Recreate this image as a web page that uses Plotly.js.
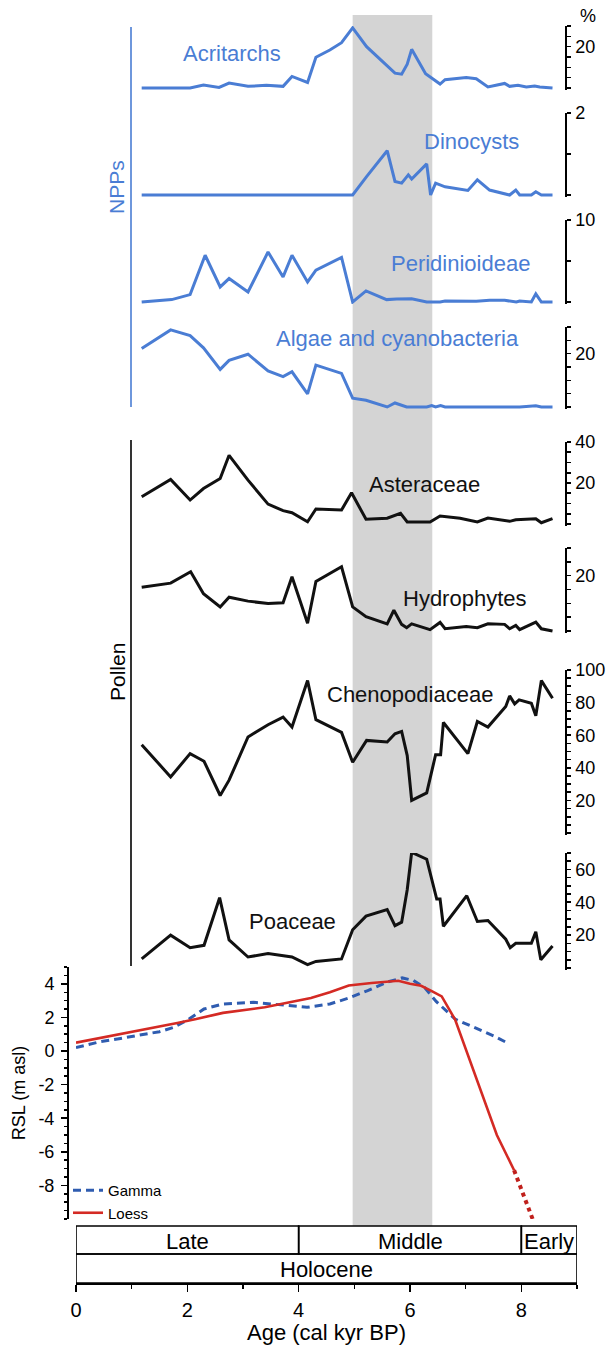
<!DOCTYPE html>
<html><head><meta charset="utf-8">
<script src="https://cdn.plot.ly/plotly-3.0.1.min.js"></script>
<style>html,body{margin:0;padding:0;background:#fff}#chart{width:606px;height:1345px}</style>
</head><body><div id="chart"></div>
<script>
// ---------------- DATA ----------------
const ageAcritarchs = [1.18,2.05,2.29,2.57,2.75,3.09,3.42,3.72,3.88,4.16,4.31,4.56,4.77,4.97,5.22,5.73,5.85,5.95,6.03,6.28,6.54,6.63,7.01,7.19,7.40,7.70,7.79,7.94,8.09,8.24,8.33,8.56];
const acritarchs    = [0,0,1.4,0.3,2.4,0.8,1.3,0.8,5.6,2.7,14.9,18.4,21.9,29.1,20,7.2,6.7,11.5,18.7,6.9,1.9,4,5.1,4.5,0.5,2.2,0.8,1.3,0.5,1.0,0.5,0];

const ageDinocysts = [1.18,4.97,5.22,5.59,5.73,5.85,5.97,6.03,6.30,6.37,6.46,6.63,7.04,7.21,7.43,7.79,7.90,7.97,8.18,8.26,8.36,8.56];
const dinocysts    = [0,0,0.45,1.08,0.33,0.29,0.49,0.39,0.76,0,0.29,0.2,0.11,0.37,0.12,0,0.12,0,0,0.08,0,0];

const agePeridinioideae = [1.18,1.72,2.05,2.32,2.59,2.75,3.09,3.45,3.72,3.88,4.16,4.31,4.77,4.97,5.21,5.58,5.76,6.03,6.30,6.54,6.63,7.19,7.43,7.70,7.91,7.97,8.18,8.26,8.36,8.56];
const peridinioideae    = [0,0.29,0.9,5.7,1.84,2.86,1.22,6.1,3.06,5.7,2.45,3.88,5.43,0,1.35,0.29,0.37,0.4,0,0,0.12,0.08,0.2,0.2,0,0.12,0,1.0,0,0];

const ageAlgae = [1.18,1.70,2.05,2.29,2.59,2.75,3.09,3.45,3.72,3.88,4.16,4.31,4.77,4.97,5.21,5.59,5.73,5.94,6.30,6.39,6.46,6.55,6.63,7.19,7.70,7.82,7.91,7.97,8.26,8.36,8.56];
const algae    = [21.9,28.9,26.8,22.2,14.1,17.5,19.8,13.5,11.4,13.2,4.9,15.7,12.6,3.3,2.5,0,1.5,0,0,0.5,0,0.5,0,0,0.25,0,0,0,0.5,0,0];

const ageAsteraceae = [1.18,1.70,2.05,2.29,2.59,2.75,3.09,3.45,3.72,3.88,4.16,4.31,4.77,4.95,5.21,5.59,5.83,5.95,6.36,6.54,6.90,7.21,7.40,7.79,7.90,8.26,8.36,8.56];
const asteraceae    = [13.3,21.7,11.7,17.3,22.2,33.5,21.4,9.7,6.5,5.5,1.1,7.3,6.8,15.2,2.3,2.8,5.2,1.0,1.0,3.9,2.8,1.0,2.9,1.3,2.1,2.6,0.6,2.6];

const ageHydrophytes = [1.18,1.70,2.06,2.29,2.59,2.75,3.09,3.45,3.72,3.88,4.16,4.31,4.77,4.97,5.21,5.59,5.71,5.85,5.94,6.03,6.36,6.54,6.63,7.01,7.21,7.40,7.70,7.79,7.90,7.97,8.26,8.36,8.56];
const hydrophytes    = [15.8,17.3,21.4,13.5,8.7,12.2,10.8,9.9,10.2,19.6,2.8,17.9,23.2,8.7,5.2,2.6,7.5,2.4,1.2,2.6,0.5,3.1,0.8,1.6,1.2,2.6,2.4,0.8,2.0,0.5,3.2,0.8,0];

const ageChenopodiaceae = [1.18,1.70,2.05,2.30,2.59,2.75,3.09,3.45,3.72,3.88,4.16,4.31,4.77,4.97,5.22,5.59,5.73,5.85,5.95,6.03,6.30,6.39,6.46,6.55,6.60,7.04,7.21,7.40,7.72,7.79,7.88,7.96,8.18,8.26,8.36,8.56];
const chenopodiaceae    = [54.2,34.4,48.7,44,23,32.4,58.9,66.4,71.1,65,93.5,69.5,61.7,43.4,56.8,55.8,60.9,62.3,47.5,20,24.6,38.5,48,48,67.8,48.7,68.4,65,77.6,84.1,79.2,81.7,79.6,71.9,93.5,82.7];

const agePoaceae = [1.18,1.70,2.05,2.30,2.58,2.75,3.09,3.45,3.88,4.16,4.31,4.77,4.97,5.21,5.59,5.73,5.85,5.95,6.03,6.30,6.48,6.54,6.60,7.02,7.21,7.40,7.72,7.80,7.90,8.18,8.26,8.35,8.56];
const poaceae    = [5.5,20,12.3,13.8,42.8,17.1,6.7,8.8,6.7,2,4,5.5,23.3,31.6,35.5,25.8,27.9,47.6,70.4,66.2,42,42,25.4,44,28.3,28.9,17.5,12.3,15,15,22,5,13.4];

const ageGamma = [0,0.43,0.80,1.50,1.75,2.03,2.30,2.64,3.19,3.67,4.15,4.56,4.90,5.24,5.59,5.86,6.06,6.27,6.47,6.81,7.16,7.50,7.74];
const rslGamma = [0.2,0.55,0.75,1.15,1.4,1.9,2.5,2.8,2.9,2.75,2.6,2.8,3.15,3.6,4.1,4.35,4.2,3.75,2.95,1.9,1.4,0.9,0.5];

const ageLoess = [0,0.80,1.82,2.16,2.64,3.39,3.80,4.22,4.56,4.90,5.31,5.58,5.79,6.0,6.2,6.4,6.57,6.81,7.16,7.56,7.87];
const rslLoess = [0.5,1.0,1.67,1.9,2.27,2.6,2.85,3.15,3.5,3.9,4.05,4.14,4.18,4.0,3.88,3.55,3.25,1.87,-1.28,-5.0,-7.1];
const ageLoessExtrapolated = [7.87,8.22];
const rslLoessExtrapolated = [-7.1,-10.15];

const periodNames  = ['Late','Middle','Early'];
const periodBounds = [0,4,8,9];
const epochName    = 'Holocene';
const highlightAges = [4.97,6.40];

const ageTicks = [0,2,4,6,8];
const rslTicks = [-8,-6,-4,-2,0,2,4];

// ---------------- LAYOUT HELPERS ----------------
const W = 606, H = 1345;
const PX = v => v / W;
const PY = v => 1 - v / H;
const FONT = 'Liberation Sans, Arial, Helvetica, sans-serif';
const BLUE = '#4a7dd4';
const BLACK = '#111111';

const panels = [
  {name:'Acritarchs', x:ageAcritarchs, y:acritarchs, max:30, labels:[20], step:5, top:26, bot:88, color:BLUE, lx:232, ly:54},
  {name:'Dinocysts', x:ageDinocysts, y:dinocysts, max:2, labels:[2], step:1, top:113, bot:195, color:BLUE, lx:471, ly:142},
  {name:'Peridinioideae', x:agePeridinioideae, y:peridinioideae, max:10, labels:[10], step:5, top:220, bot:302, color:BLUE, lx:460, ly:263},
  {name:'Algae and cyanobacteria', x:ageAlgae, y:algae, max:30, labels:[20], step:5, top:327, bot:407, color:BLUE, lx:397, ly:338},
  {name:'Asteraceae', x:ageAsteraceae, y:asteraceae, max:40, labels:[20,40], step:5, top:442, bot:524, color:BLACK, lx:424, ly:485},
  {name:'Hydrophytes', x:ageHydrophytes, y:hydrophytes, max:30, labels:[20], step:5, top:548, bot:631, color:BLACK, lx:465, ly:598},
  {name:'Chenopodiaceae', x:ageChenopodiaceae, y:chenopodiaceae, max:100, labels:[20,40,60,80,100], step:5, top:670, bot:833, color:BLACK, lx:410, ly:694},
  {name:'Poaceae', x:agePoaceae, y:poaceae, max:70, labels:[20,40,60], step:5, top:853, bot:968, color:BLACK, lx:292, ly:921}
];

const traces = [];
const layout = {
  width: W, height: H,
  margin: {l:0, r:0, t:0, b:0, pad:0},
  paper_bgcolor: '#ffffff',
  plot_bgcolor: 'rgba(0,0,0,0)',
  font: {family: FONT, color: '#000', size: 18},
  showlegend: true,
  legend: {x: PX(68), y: PY(1174), xanchor:'left', yanchor:'top', bgcolor:'rgba(0,0,0,0)',
           font:{size:15, family:FONT}, tracegroupgap:0, itemwidth:30},
  xaxis: {
    domain: [PX(76), PX(577)], range: [0, 9], anchor: 'free', position: PY(1283),
    showline: true, linecolor: '#000', linewidth: 1.6, mirror: false,
    ticks: 'outside', ticklen: 7, tickwidth: 1.6, tickcolor: '#000',
    tickmode: 'array', tickvals: ageTicks, ticktext: ageTicks.map(String),
    minor: {tickmode:'linear', tick0:0, dtick:1, ticks:'outside', ticklen:4, tickwidth:1.6, tickcolor:'#000', showgrid:false},
    tickfont: {size: 20}, ticklabelstandoff: 1,
    showgrid: false, zeroline: false, fixedrange: true,
    title: {text: 'Age (cal kyr BP)', font: {size: 22}, standoff: 2}
  },
  yaxis: {
    domain: [PY(1219), PY(967)], range: [-10, 5], anchor: 'free', position: PX(67), side: 'left',
    showline: true, linecolor: '#000', linewidth: 1.6,
    ticks: 'outside', ticklen: 6, tickwidth: 1.6, tickcolor: '#000',
    tickmode: 'array', tickvals: rslTicks, ticktext: rslTicks.map(String),
    minor: {tickmode:'linear', tick0:0, dtick:0.5, ticks:'outside', ticklen:3, tickwidth:1.4, tickcolor:'#000', showgrid:false},
    tickfont: {size: 18}, ticklabelstandoff: 3,
    showgrid: false, zeroline: false, fixedrange: true,
    title: {text: 'RSL (m asl)', font: {size: 18}, standoff: 6}
  },
  shapes: [],
  annotations: []
};

// Highlight band
layout.shapes.push({type:'rect', xref:'x', yref:'paper', x0:highlightAges[0], x1:highlightAges[1],
  y0:PY(1226), y1:PY(15), fillcolor:'#d4d4d4', line:{width:0}, layer:'below'});

// Panels
panels.forEach((p, i) => {
  const n = i + 2;
  const padPx = 2;
  const upp = p.max / (p.bot - p.top);
  const tv = [], tt = [];
  for (let v = 0; v <= p.max + 1e-9; v += p.step) { tv.push(v); tt.push(p.labels.includes(v) ? String(v) : ''); }
  layout['yaxis' + n] = {
    domain: [PY(p.bot + padPx), PY(p.top)], range: [-padPx * upp, p.max],
    anchor: 'free', position: PX(565), side: 'right',
    showline: true, linecolor: '#000', linewidth: 1.6,
    ticks: 'outside', ticklen: 4, tickwidth: 1.6, tickcolor: '#000',
    tickmode: 'array', tickvals: tv, ticktext: tt, tickfont: {size: 18}, ticklabelstandoff: 1,
    showgrid: false, zeroline: false, fixedrange: true
  };
  traces.push({type:'scatter', mode:'lines', x:p.x, y:p.y, xaxis:'x', yaxis:'y' + n,
    line:{color:p.color, width:3}, showlegend:false, name:p.name, hoverinfo:'skip'});
  layout.annotations.push({text:p.name, xref:'paper', yref:'paper', x:PX(p.lx), y:PY(p.ly),
    xanchor:'center', yanchor:'middle', showarrow:false, font:{size:22, color:p.color}});
});

// RSL curves
traces.push({type:'scatter', mode:'lines', x:ageGamma, y:rslGamma, xaxis:'x', yaxis:'y',
  name:'Gamma', line:{color:'#2f5cb0', width:3, dash:'8px,5px'}, hoverinfo:'skip'});
traces.push({type:'scatter', mode:'lines', x:ageLoess, y:rslLoess, xaxis:'x', yaxis:'y',
  name:'Loess', line:{color:'#d42a24', width:2.6}, hoverinfo:'skip'});
traces.push({type:'scatter', mode:'lines', x:ageLoessExtrapolated, y:rslLoessExtrapolated, xaxis:'x', yaxis:'y',
  name:'Loess (extrapolated)', showlegend:false, line:{color:'#c0201c', width:4, dash:'4px,4px'}, hoverinfo:'skip'});

// Group brackets
layout.shapes.push({type:'line', xref:'paper', yref:'paper', x0:PX(131), x1:PX(131), y0:PY(27), y1:PY(407), line:{color:BLUE, width:1.6}});
layout.shapes.push({type:'line', xref:'paper', yref:'paper', x0:PX(131), x1:PX(131), y0:PY(440), y1:PY(966), line:{color:'#000', width:1.6}});
layout.annotations.push({text:'NPPs', xref:'paper', yref:'paper', x:PX(117), y:PY(187), textangle:-90,
  xanchor:'center', yanchor:'middle', showarrow:false, font:{size:21, color:BLUE}});
layout.annotations.push({text:'Pollen', xref:'paper', yref:'paper', x:PX(117), y:PY(672), textangle:-90,
  xanchor:'center', yanchor:'middle', showarrow:false, font:{size:21, color:'#000'}});
layout.annotations.push({text:'%', xref:'paper', yref:'paper', x:PX(588), y:PY(16),
  xanchor:'center', yanchor:'middle', showarrow:false, font:{size:18, color:'#000'}});

// Chronostratigraphic boxes
for (let i = 0; i < periodNames.length; i++) {
  layout.shapes.push({type:'rect', xref:'x', yref:'paper', x0:periodBounds[i], x1:periodBounds[i+1],
    y0:PY(1254), y1:PY(1226), line:{color:'#000', width:1.6}, fillcolor:'rgba(0,0,0,0)'});
  layout.annotations.push({text:periodNames[i], xref:'x', yref:'paper', x:(periodBounds[i]+periodBounds[i+1])/2,
    y:PY(1241), xanchor:'center', yanchor:'middle', showarrow:false, font:{size:22}});
}
layout.shapes.push({type:'rect', xref:'x', yref:'paper', x0:periodBounds[0], x1:periodBounds[periodBounds.length-1],
  y0:PY(1283), y1:PY(1254), line:{color:'#000', width:1.6}, fillcolor:'rgba(0,0,0,0)'});
layout.annotations.push({text:epochName, xref:'x', yref:'paper', x:(periodBounds[0]+periodBounds[periodBounds.length-1])/2,
  y:PY(1269), xanchor:'center', yanchor:'middle', showarrow:false, font:{size:22}});

Plotly.newPlot('chart', traces, layout, {displayModeBar:false, staticPlot:true});
</script></body></html>
